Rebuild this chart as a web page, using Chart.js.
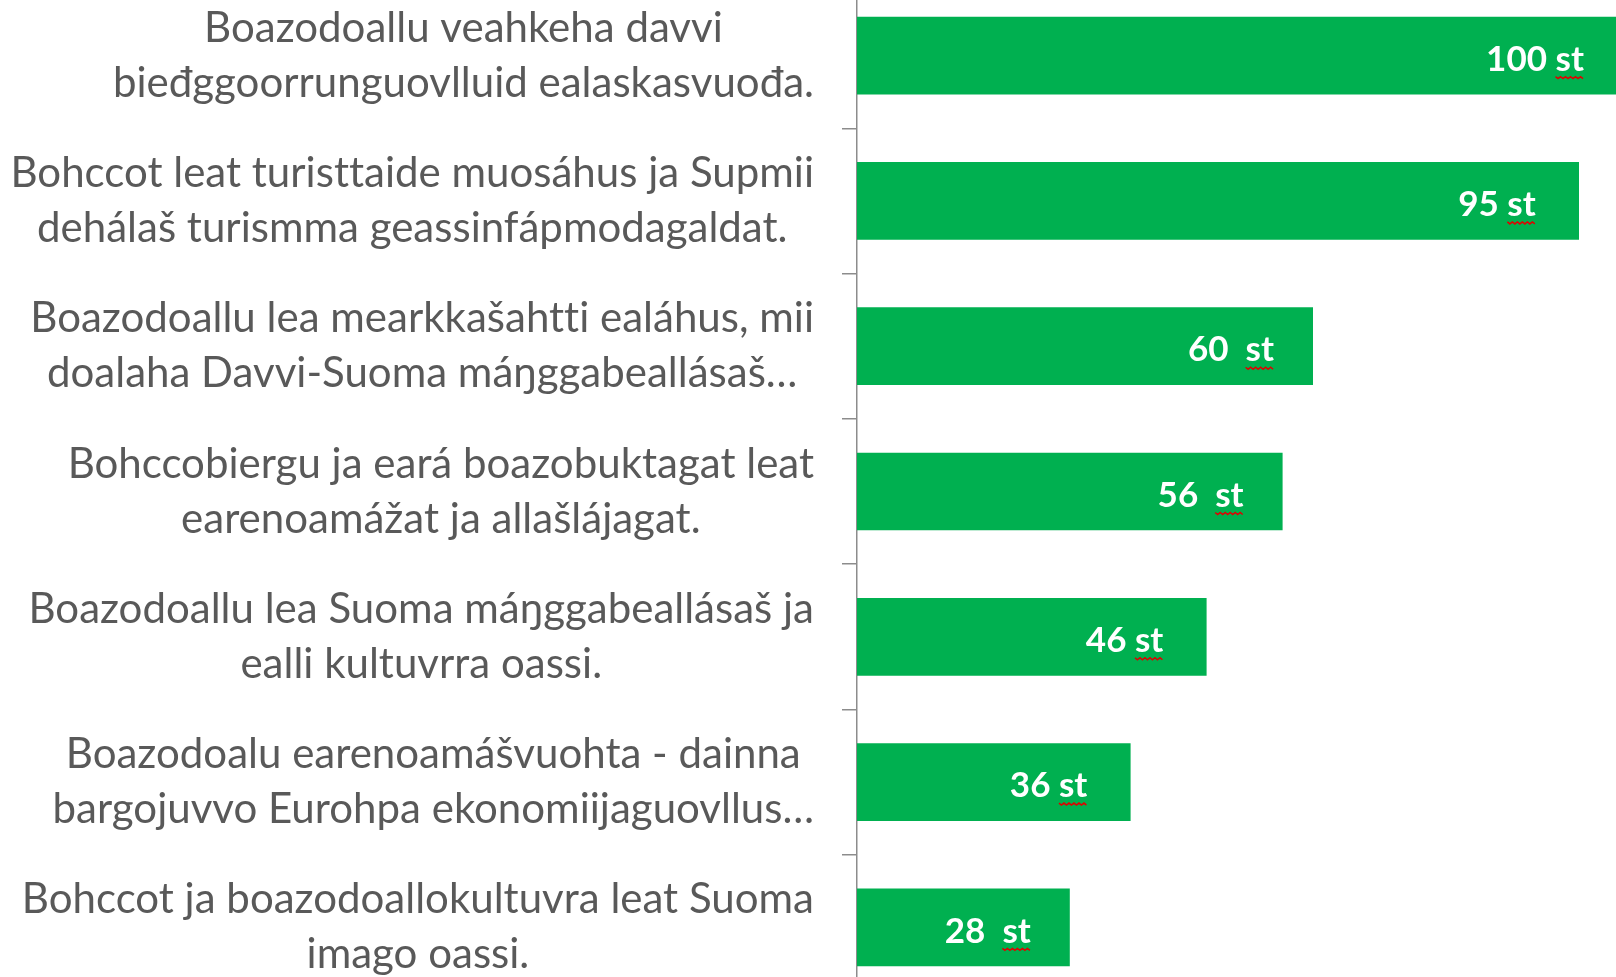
<!DOCTYPE html>
<html>
<head>
<meta charset="utf-8">
<script src="https://cdn.jsdelivr.net/npm/chart.js@4.4.1/dist/chart.umd.min.js"></script>
<style>
  html, body { margin: 0; padding: 0; background: #fff; overflow: hidden; width: 1616px; height: 977px; }
  #graf { position: absolute; left: 0; top: -17px; }
</style>
</head>
<body>
<canvas id="graf" width="1617" height="1017"></canvas>
<script>
const categorias = [
    ['Boazodoallu veahkeha davvi', 'bieđggoorrunguovlluid ealaskasvuođa.'],
    ['Bohccot leat turisttaide muosáhus ja Supmii', 'dehálaš turismma geassinfápmodagaldat.'],
    ['Boazodoallu lea mearkkašahtti ealáhus, mii', 'doalaha Davvi-Suoma máŋggabeallásaš…'],
    ['Bohccobiergu ja eará boazobuktagat leat', 'earenoamážat ja allašlájagat.'],
    ['Boazodoallu lea Suoma máŋggabeallásaš ja', 'ealli kultuvrra oassi.'],
    ['Boazodoalu earenoamášvuohta - dainna', 'bargojuvvo Eurohpa ekonomiijaguovllus…'],
    ['Bohccot ja boazodoallokultuvra leat Suoma', 'imago oassi.']
];
const valores = [100, 95, 60, 56, 46, 36, 28];
const etiquetas = ['100 st', '95 st', '60  st', '56  st', '46 st', '36 st', '28  st'];

const gris = '#595959';
const verde = '#00B050';

// category labels: lines centred on each other, block right aligned
const textoEjes = {
    id: 'textoEjes',
    afterDraw(chart) {
        let ctx = chart.ctx;
        let escala = chart.scales.y;
        ctx.save();
        ctx.font = '42px Lato';
        ctx.letterSpacing = '0.01px'; // no ligatures
        ctx.fillStyle = gris;
        ctx.textAlign = 'center';
        ctx.textBaseline = 'middle';
        categorias.forEach((lineas, i) => {
            let cy = escala.getPixelForTick(i);
            let anchoMax = Math.max(...lineas.map(l => ctx.measureText(l).width));
            let cx = 814 - anchoMax / 2;
            lineas.forEach((l, j) => {
                ctx.fillText(l, cx, cy + (j - (lineas.length - 1) / 2) * 55);
            });
        });
        ctx.restore();
    }
};

// value labels inside the bars, with the spell-check squiggle under "st"
const textoBarras = {
    id: 'textoBarras',
    afterDatasetsDraw(chart) {
        let ctx = chart.ctx;
        let meta = chart.getDatasetMeta(0);
        ctx.save();
        ctx.font = 'bold 35px Lato';
        ctx.textAlign = 'center';
        ctx.textBaseline = 'middle';
        meta.data.forEach((barra, i) => {
            let texto = etiquetas[i];
            let cx = barra.x - 82;
            let cy = barra.y + 4;
            ctx.fillStyle = '#fff';
            ctx.fillText(texto, cx, cy);
            let ancho = ctx.measureText(texto).width;
            let anchoSt = ctx.measureText('st').width;
            let fin = cx + ancho / 2;
            let ini = fin - anchoSt;
            let yy = cy + 17;
            ctx.beginPath();
            ctx.strokeStyle = '#e00000';
            ctx.lineWidth = 1.5;
            for (let x = ini, k = 0; x <= fin + 0.1; x += 2.5, k++) {
                let y = yy + (k % 2 ? 2 : 0);
                if (k === 0) ctx.moveTo(x, y); else ctx.lineTo(x, y);
            }
            ctx.stroke();
        });
        ctx.restore();
    }
};

let ctx = document.getElementById('graf').getContext('2d');
new Chart(ctx, {
    type: 'bar',
    data: {
        labels: categorias,
        datasets: [{
            data: valores,
            backgroundColor: verde,
            borderWidth: 0,
            barPercentage: 0.535,
            categoryPercentage: 1
        }]
    },
    options: {
        indexAxis: 'y',
        responsive: false,
        animation: false,
        layout: { padding: 0 },
        plugins: {
            legend: { display: false },
            tooltip: { enabled: false }
        },
        scales: {
            x: { display: false, min: 0, max: 100 },
            y: {
                ticks: { display: false },
                grid: {
                    drawOnChartArea: false,
                    color: '#8c8c8c',
                    lineWidth: 1.5,
                    tickLength: 15
                },
                border: { color: '#8c8c8c', width: 1.5 },
                afterFit: (s) => { s.width = 857; }
            }
        }
    },
    plugins: [textoEjes, textoBarras]
});
</script>
</body>
</html>
